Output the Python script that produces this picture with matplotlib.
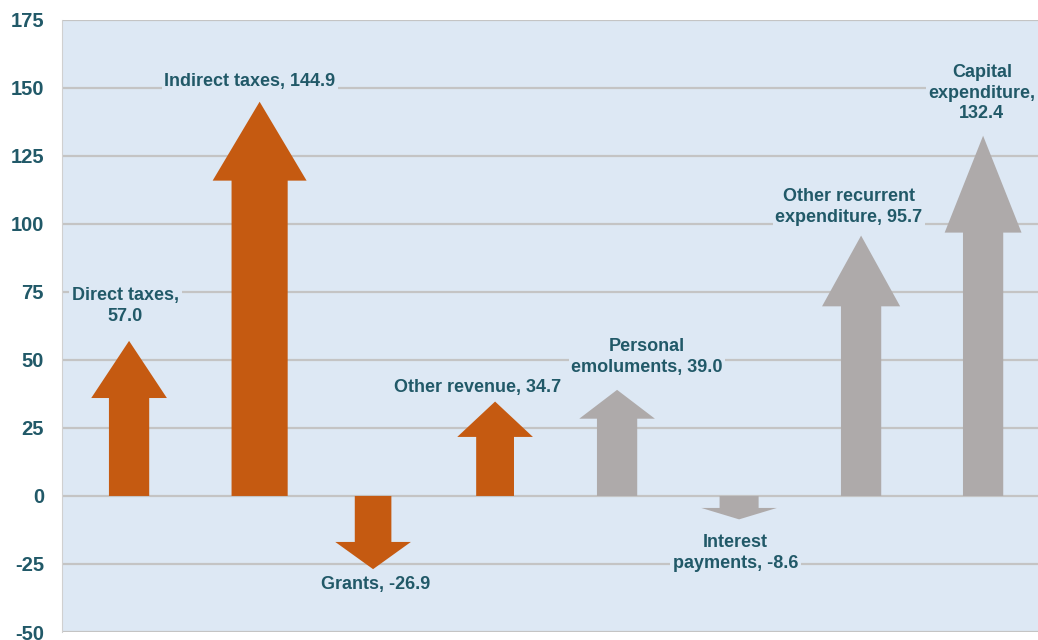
import matplotlib.pyplot as plt

# Budget changes by item
labels = ['Direct taxes,\n57.0', 'Indirect taxes, 144.9', 'Grants, -26.9',
          'Other revenue, 34.7', 'Personal\nemoluments, 39.0',
          'Interest\npayments, -8.6', 'Other recurrent\nexpenditure, 95.7',
          'Capital\nexpenditure,\n132.4']
values = [57.0, 144.9, -26.9, 34.7, 39.0, -8.6, 95.7, 132.4]
group = ['rev', 'rev', 'rev', 'rev', 'exp', 'exp', 'exp', 'exp']

# arrow geometry (x in category units, head length in value units)
xpos = [0.0, 1.07, 2.0, 3.0, 4.0, 5.0, 6.0, 7.0]
shaft_w = [0.33, 0.46, 0.30, 0.31, 0.33, 0.32, 0.33, 0.33]
head_w = [0.62, 0.77, 0.62, 0.62, 0.62, 0.62, 0.64, 0.63]
head_len = [21, 29, 10, 13, 10.6, 4.2, 26, 35.6]

# label centres
label_xy = [(-0.03, 69.8), (0.99, 152.5), (2.02, -32.5), (2.86, 39.9),
            (4.245, 51.1), (4.97, -21), (5.90, 106.3), (6.99, 148.1)]

colors = {'rev': '#c55a11', 'exp': '#aeaaaa'}
txt_color = '#215968'
bg = '#dde8f4'

plt.rcParams['font.family'] = ['Liberation Sans', 'DejaVu Sans']
plt.rcParams['axes.unicode_minus'] = False

fig = plt.figure(figsize=(10.38, 6.4), dpi=100)
ax = fig.add_axes([0.0597, 0.0125, 0.9403, 0.9565])
ax.set_facecolor(bg)
ax.set_xlim(-0.55, 7.45)
ax.set_ylim(-50, 175)
ax.set_yticks(range(-50, 176, 25))
ax.set_xticks([])
ax.grid(axis='y', color='#c4c4c4', linewidth=1.6)
ax.set_axisbelow(True)
for s in ['top', 'right', 'bottom']:
    ax.spines[s].set_visible(False)
ax.spines['left'].set_color('#d0d0d0')
ax.tick_params(axis='y', length=0, pad=13, labelsize=14.5, labelcolor=txt_color)
for t in ax.get_yticklabels():
    t.set_fontweight('bold')

for i, v in enumerate(values):
    ax.arrow(xpos[i], 0, 0, v, width=shaft_w[i], head_width=head_w[i],
             head_length=head_len[i], length_includes_head=True,
             color=colors[group[i]], linewidth=0, zorder=3)
    lx, ly = label_xy[i]
    ax.text(lx, ly, labels[i], ha='center', va='center', fontsize=13,
            fontweight='bold', color=txt_color, linespacing=1.3, zorder=4,
            bbox=dict(facecolor=bg, edgecolor='none', pad=2))

fig.savefig('out.png', dpi=100)
